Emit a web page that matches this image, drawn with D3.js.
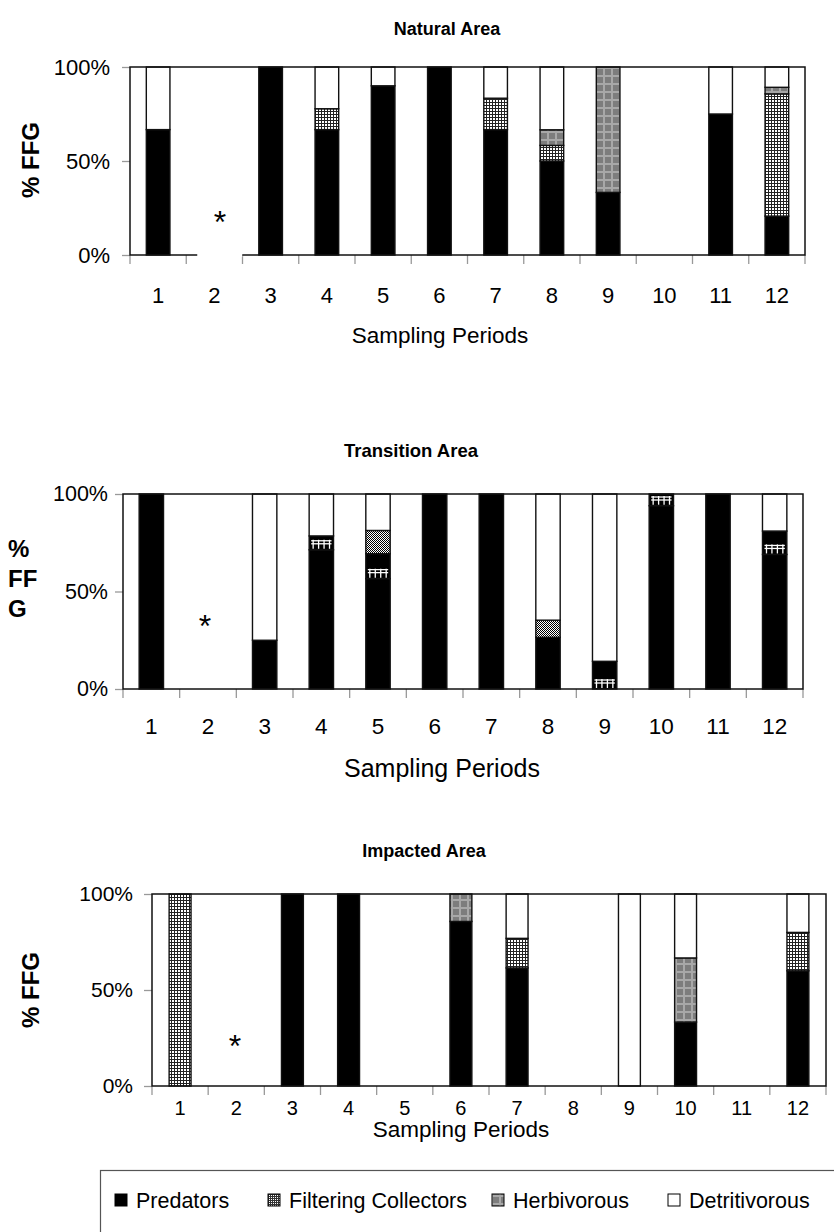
<!DOCTYPE html>
<html>
<head>
<meta charset="utf-8">
<script src="https://cdn.jsdelivr.net/npm/d3@7"></script>
<style>
  html, body { margin: 0; padding: 0; background: #fff; }
  svg { display: block; font-family: Arial, "Liberation Sans", sans-serif; }
</style>
</head>
<body>
<svg id="chart" width="834" height="1232"></svg>
<script>
// ---------- DATA ----------
const periods = ["1","2","3","4","5","6","7","8","9","10","11","12"];
const groups = ["Predators", "Filtering Collectors", "Herbivorous", "Detritivorous"];
const yTicks = [0, 50, 100];

// Natural Area (% of FFG per sampling period; period 2 and 10 without data)
const naturalPredators     = [66.7, 0, 100, 66.7, 90, 100, 66.7, 50, 33.3, 0, 75, 20.7];
const naturalFiltering     = [0, 0, 0, 11.1, 0, 0, 16.7, 8.3, 0, 0, 0, 65];
const naturalHerbivorous   = [0, 0, 0, 0, 0, 0, 0, 8.3, 66.7, 0, 0, 3.5];
const naturalDetritivorous = [33.3, 0, 0, 22.2, 10, 0, 16.6, 33.4, 0, 0, 25, 10.8];

// Transition Area
const transitionPredators     = [100, 0, 25, 71.4, 56.6, 100, 100, 26.5, 0, 94, 100, 69];
const transitionFiltering     = [0, 0, 0, 7.1, 12.8, 0, 0, 0, 14.2, 6, 0, 12];
const transitionHerbivorous   = [0, 0, 0, 0, 11.9, 0, 0, 8.8, 0, 0, 0, 0];
const transitionDetritivorous = [0, 0, 75, 21.5, 18.7, 0, 0, 64.7, 85.8, 0, 0, 19];

// Impacted Area
const impactedPredators     = [0, 0, 100, 100, 0, 85.7, 61.5, 0, 0, 33.3, 0, 60];
const impactedFiltering     = [100, 0, 0, 0, 0, 0, 15.4, 0, 0, 0, 0, 20];
const impactedHerbivorous   = [0, 0, 0, 0, 0, 14.3, 0, 0, 0, 33.4, 0, 0];
const impactedDetritivorous = [0, 0, 0, 0, 0, 0, 23.1, 0, 100, 33.3, 0, 20];

const missingPeriod = "2"; // marked with an asterisk

// ---------- SVG / patterns ----------
const svg = d3.select("#chart");
const defs = svg.append("defs");

const pFilt = defs.append("pattern").attr("id", "pFilt")
  .attr("patternUnits", "userSpaceOnUse").attr("width", 3).attr("height", 3);
pFilt.append("rect").attr("width", 3).attr("height", 3).attr("fill", "#fff");
pFilt.append("rect").attr("width", 3).attr("height", 1).attr("fill", "#222");
pFilt.append("rect").attr("width", 1).attr("height", 3).attr("fill", "#222");

const pHerb = defs.append("pattern").attr("id", "pHerb")
  .attr("patternUnits", "userSpaceOnUse").attr("width", 8).attr("height", 8);
pHerb.append("rect").attr("width", 8).attr("height", 8).attr("fill", "#7d7d7d");
pHerb.append("rect").attr("x", 3).attr("width", 2).attr("height", 8).attr("fill", "#a8a8a8");
pHerb.append("rect").attr("y", 3).attr("width", 8).attr("height", 2).attr("fill", "#a8a8a8");

const pDot = defs.append("pattern").attr("id", "pDot")
  .attr("patternUnits", "userSpaceOnUse").attr("width", 2).attr("height", 2);
pDot.append("rect").attr("width", 2).attr("height", 2).attr("fill", "#fff");
pDot.append("rect").attr("width", 1).attr("height", 1).attr("fill", "#000");
pDot.append("rect").attr("x", 1).attr("y", 1).attr("width", 1).attr("height", 1).attr("fill", "#000");

const pFiltL = defs.append("pattern").attr("id", "pFiltL")
  .attr("patternUnits", "userSpaceOnUse").attr("width", 2).attr("height", 2);
pFiltL.append("rect").attr("width", 2).attr("height", 2).attr("fill", "#fff");
pFiltL.append("rect").attr("width", 2).attr("height", 1).attr("fill", "#333");
pFiltL.append("rect").attr("width", 1).attr("height", 2).attr("fill", "#333");

const panels = [
  { title: "Natural Area", series: [naturalPredators, naturalFiltering, naturalHerbivorous, naturalDetritivorous],
    x0: 130, x1: 805, y0: 67, y1: 255, barFrac: 0.42, style: "A",
    titleX: 447, titleY: 35, titleFont: 18, tickFont: 22, tickY: 303, xlabFont: 22.5, xlabY: 343, xlabX: 440,
    yLabFont: 22, yLabRight: 110, ylab: ["% FFG"], ylabX: 39, ylabY: 160, ylabFont: 24,
    starX: 220, starY: 233, starMask: true },
  { title: "Transition Area", series: [transitionPredators, transitionFiltering, transitionHerbivorous, transitionDetritivorous],
    x0: 123, x1: 803, y0: 494, y1: 689, barFrac: 0.43, style: "B",
    titleX: 411, titleY: 457, titleFont: 18.5, tickFont: 22.5, tickY: 734, xlabFont: 25, xlabY: 777, xlabX: 442,
    yLabFont: 21.5, yLabRight: 108, ylab: ["%", "FF", "G"], ylabX: 8, ylabY: 557, ylabFont: 24,
    starX: 205, starY: 637, starMask: false },
  { title: "Impacted Area", series: [impactedPredators, impactedFiltering, impactedHerbivorous, impactedDetritivorous],
    x0: 152, x1: 826, y0: 894, y1: 1086, barFrac: 0.39, style: "A",
    titleX: 424, titleY: 857, titleFont: 18, tickFont: 20, tickY: 1115, xlabFont: 22.5, xlabY: 1137, xlabX: 461,
    yLabFont: 21, yLabRight: 133, ylab: ["% FFG"], ylabX: 39, ylabY: 990, ylabFont: 24,
    starX: 235, starY: 1057, starMask: false }
];

function fillFor(key, style) {
  if (key === "Predators") return "#000";
  if (key === "Filtering Collectors") return style === "B" ? "#000" : "url(#pFilt)";
  if (key === "Herbivorous") return style === "B" ? "url(#pDot)" : "url(#pHerb)";
  return "#fff";
}

panels.forEach(p => {
  const g = svg.append("g");
  const x = d3.scaleBand().domain(periods).range([p.x0, p.x1]).padding(0);
  const y = d3.scaleLinear().domain([0, 100]).range([p.y1, p.y0]);
  const bw = x.bandwidth() * p.barFrac;
  const off = (x.bandwidth() - bw) / 2;

  g.append("text").attr("x", p.titleX).attr("y", p.titleY)
    .attr("text-anchor", "middle").attr("font-weight", "bold").attr("font-size", p.titleFont)
    .text(p.title);

  const yAxis = d3.axisLeft(y).tickValues(yTicks).tickFormat(d => d + "%").tickSize(8).tickPadding(12);
  const ya = g.append("g").attr("transform", `translate(${p.x0},0)`).call(yAxis);
  ya.select(".domain").remove();
  ya.selectAll(".tick line").attr("stroke", "#999").attr("stroke-width", 1.3);
  ya.selectAll(".tick text").attr("font-size", p.yLabFont).attr("fill", "#000")
    .attr("x", p.yLabRight - p.x0).attr("font-family", "Arial, 'Liberation Sans', sans-serif");

  const bounds = periods.map(c => x(c)).concat([p.x1]);
  g.append("g").selectAll("line").data(bounds).join("line")
    .attr("x1", d => d).attr("x2", d => d).attr("y1", p.y1).attr("y2", p.y1 + 9)
    .attr("stroke", "#999").attr("stroke-width", 1.3);

  g.append("g").selectAll("text").data(periods).join("text")
    .attr("x", d => x(d) + x.bandwidth() / 2).attr("y", p.tickY)
    .attr("text-anchor", "middle").attr("font-size", p.tickFont).text(d => d);

  g.append("text").attr("x", p.xlabX).attr("y", p.xlabY).attr("text-anchor", "middle")
    .attr("font-size", p.xlabFont).text("Sampling Periods");

  if (p.ylab.length === 1) {
    g.append("text").attr("transform", `translate(${p.ylabX},${p.ylabY}) rotate(-90)`)
      .attr("text-anchor", "middle").attr("font-weight", "bold").attr("font-size", p.ylabFont)
      .text(p.ylab[0]);
  } else {
    g.append("text").attr("font-weight", "bold").attr("font-size", p.ylabFont)
      .selectAll("tspan").data(p.ylab).join("tspan")
      .attr("x", p.ylabX).attr("y", (d, i) => p.ylabY + i * 30).text(d => d);
  }

  const rows = periods.map((c, i) => {
    const r = { period: c };
    groups.forEach((k, j) => r[k] = p.series[j][i]);
    return r;
  });
  const stack = d3.stack().keys(groups)(rows);

  const barsG = g.append("g");
  stack.forEach(layer => {
    const key = layer.key;
    barsG.append("g").selectAll("rect")
      .data(layer.filter(d => d[1] - d[0] > 0))
      .join("rect")
      .attr("x", d => x(d.data.period) + off)
      .attr("width", bw)
      .attr("y", d => y(d[1]))
      .attr("height", d => y(d[0]) - y(d[1]))
      .attr("fill", fillFor(key, p.style))
      .attr("stroke", "#111").attr("stroke-width", 1.4);

    if (p.style === "B" && key === "Filtering Collectors") {
      layer.filter(d => d[1] - d[0] > 0).forEach(d => {
        const bx = x(d.data.period) + off;
        const yb = y(d[0]);
        const mh = Math.min(11, y(d[0]) - y(d[1]) - 1);
        const top = yb - mh;
        const mg = barsG.append("g").attr("stroke", "#fff").attr("stroke-width", 1.3);
        mg.append("line").attr("x1", bx + 2).attr("x2", bx + bw - 2).attr("y1", top + 2).attr("y2", top + 2);
        mg.append("line").attr("x1", bx + 2).attr("x2", bx + bw - 2).attr("y1", top + 5).attr("y2", top + 5);
        d3.range(4).forEach(k => {
          const xx = bx + 4 + k * (bw - 8) / 3;
          mg.append("line").attr("x1", xx).attr("x2", xx).attr("y1", top + 1).attr("y2", yb - 1);
        });
      });
    }
  });

  g.append("rect").attr("x", p.x0).attr("y", p.y0)
    .attr("width", p.x1 - p.x0).attr("height", p.y1 - p.y0)
    .attr("fill", "none").attr("stroke", "#111").attr("stroke-width", 1.5);

  if (p.starMask) {
    g.append("rect").attr("x", x(missingPeriod) + 11).attr("y", p.starY - 30)
      .attr("width", 45).attr("height", p.y1 - p.starY + 32).attr("fill", "#fff");
  }
  g.append("text").attr("x", p.starX).attr("y", p.starY).attr("text-anchor", "middle")
    .attr("font-size", 32).text("*");
});

// ---------- legend ----------
const lg = svg.append("g");
lg.append("rect").attr("x", 100.5).attr("y", 1170.5).attr("width", 760).attr("height", 90)
  .attr("fill", "#fff").attr("stroke", "#555").attr("stroke-width", 1.2);
const legendFills = ["#000", "url(#pFiltL)", "url(#pHerb)", "#fff"];
const legendX = [115, 268, 492, 668];
groups.forEach((k, i) => {
  lg.append("rect").attr("x", legendX[i]).attr("y", 1194).attr("width", 12).attr("height", 12)
    .attr("fill", legendFills[i]).attr("stroke", "#000").attr("stroke-width", 1);
  lg.append("text").attr("x", legendX[i] + 21).attr("y", 1208).attr("font-size", 21.5).text(k);
});
</script>
</body>
</html>
